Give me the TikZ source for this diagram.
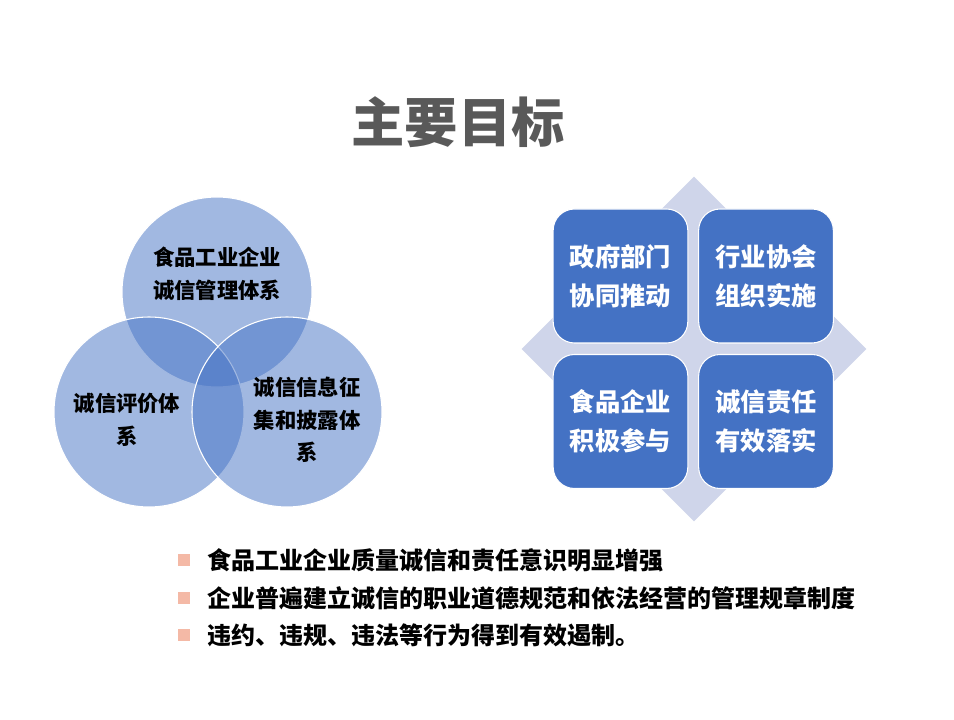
\documentclass[tikz,border=0pt]{standalone}
\usepackage{fontspec}
\setmainfont{Noto Sans CJK SC}
\usetikzlibrary{shapes.geometric}
\definecolor{goalGrey}{HTML}{595959}
\definecolor{goalBlue}{HTML}{4472C4}
\definecolor{goalLilac}{HTML}{CFD5EA}
\definecolor{goalPink}{HTML}{F4B9A6}

\begin{document}
\begin{tikzpicture}[x=0.75pt,y=-0.75pt,ring/.style={circle,draw=white,line width=0.8pt,fill=goalBlue,fill opacity=0.5,minimum size=142.5pt,inner sep=0pt},ringtext/.style={font=\bfseries\fontsize{16}{24.5}\selectfont,align=center,text=black},tile/.style={draw=white,line width=0.8pt,fill=goalBlue,rounded corners=16pt,minimum width=101pt,minimum height=100.5pt,align=center,text=white,font=\bfseries\fontsize{19}{29}\selectfont},dot/.style={fill=goalPink,minimum size=9pt,inner sep=0pt},item/.style={anchor=west,font=\bfseries\fontsize{18}{22}\selectfont,inner sep=0pt}]
\useasboundingbox (0,0) rectangle (954,720);
\node[font=\bfseries\fontsize{40}{48}\selectfont,text=goalGrey] (title) at (458,122) {主要目标};
% three rings
\node[ring] (r1) at (217,292) {};
\node[ring] (r2) at (149,412) {};
\node[ring] (r3) at (287,412) {};
\node[ringtext] (t1) at (217,274) {食品工业企业\\诚信管理体系};
\node[ringtext] (t2) at (127,420) {诚信评价体\\系};
\node[ringtext] (t3) at (307,420) {诚信信息征\\集和披露体\\系};
% diamond with four tiles
\node[diamond,fill=goalLilac,minimum width=258.75pt,minimum height=258.75pt,inner sep=0pt] (dia) at (694,349) {};
\node[tile] (gov) at (620.5,276) {政府部门\\协同推动};
\node[tile] (ind) at (766,276) {行业协会\\组织实施};
\node[tile] (ent) at (620.5,421.5) {食品企业\\积极参与};
\node[tile] (res) at (766,421.5) {诚信责任\\有效落实};
% goals list
\node[dot] (d1) at (184,560) {};
\node[dot] (d2) at (184,598) {};
\node[dot] (d3) at (184,635) {};
\node[item] (g1) at (207,560) {食品工业企业质量诚信和责任意识明显增强};
\node[item] (g2) at (207,598) {企业普遍建立诚信的职业道德规范和依法经营的管理规章制度};
\node[item] (g3) at (207,635) {违约、违规、违法等行为得到有效遏制。};
\end{tikzpicture}
\end{document}
